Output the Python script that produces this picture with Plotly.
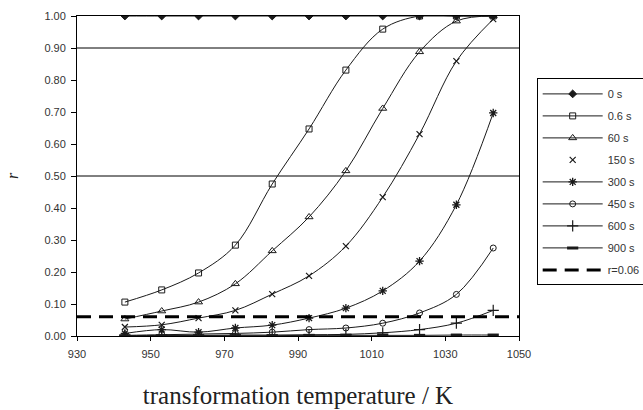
import plotly.graph_objects as go

# ---- data ----
temps = [943, 953, 963, 973, 983, 993, 1003, 1013, 1023, 1033, 1043]

r_0s   = [1.00, 1.00, 1.00, 1.00, 1.00, 1.00, 1.00, 1.00, 1.00, 1.00, 1.00]
r_06s  = [0.106, 0.144, 0.197, 0.284, 0.475, 0.647, 0.831, 0.959, 1.00, 1.00, 1.00]
r_60s  = [0.053, 0.078, 0.106, 0.163, 0.266, 0.372, 0.516, 0.711, 0.888, 0.984, 1.00]
r_150s = [0.028, 0.035, 0.056, 0.080, 0.131, 0.188, 0.281, 0.434, 0.631, 0.859, 0.99]
r_300s = [0.008, 0.020, 0.012, 0.025, 0.034, 0.056, 0.087, 0.141, 0.234, 0.41, 0.697]
r_450s = [0.002, 0.004, 0.006, 0.008, 0.012, 0.020, 0.025, 0.040, 0.072, 0.130, 0.275]
r_600s = [0.001, 0.002, 0.002, 0.003, 0.003, 0.004, 0.005, 0.010, 0.020, 0.040, 0.080]
r_900s = [0.001, 0.001, 0.001, 0.001, 0.001, 0.002, 0.002, 0.002, 0.002, 0.003, 0.003]

r_crit = 0.06
crit_x = [930, 1050]
ref_levels = [0.5, 0.9]

x_ticks = [930, 950, 970, 990, 1010, 1030, 1050]
y_ticks = [0.0, 0.1, 0.2, 0.3, 0.4, 0.5, 0.6, 0.7, 0.8, 0.9, 1.0]

series = [
    ("0 s", r_0s, "diamond", 6, 1),
    ("0.6 s", r_06s, "square-open", 6, 1),
    ("60 s", r_60s, "triangle-up-open", 7, 1),
    ("150 s", r_150s, "x-thin-open", 6, 1.2),
    ("300 s", r_300s, "asterisk-open", 7, 1.3),
    ("450 s", r_450s, "circle-open", 6, 1),
    ("600 s", r_600s, "cross-thin-open", 8, 1.2),
    ("900 s", r_900s, "line-ew-open", 8, 3),
]

LC = "#1a1a1a"
fig = go.Figure()
for i, (name, ys, sym, sz, lw) in enumerate(series):
    mk = dict(symbol=sym, size=sz, color=LC, line=dict(color=LC, width=lw))
    if name == "150 s":
        # curve drawn with line, legend shows marker only
        fig.add_trace(go.Scatter(x=temps, y=ys, mode="lines+markers", name=name,
                                 showlegend=False, legendgroup=f"g{i}",
                                 line=dict(color=LC, width=1, shape="spline"),
                                 marker=mk))
        fig.add_trace(go.Scatter(x=[None], y=[None], mode="markers", name=name,
                                 legendgroup=f"g{i}", marker=mk))
    else:
        fig.add_trace(go.Scatter(x=temps, y=ys, mode="lines+markers", name=name,
                                 legendgroup=f"g{i}",
                                 line=dict(color=LC, width=1, shape="spline"),
                                 marker=mk))

fig.add_trace(go.Scatter(x=crit_x, y=[r_crit, r_crit], mode="lines", name="r=0.06",
                         legendgroup="g9",
                         line=dict(color="black", width=3, dash="14px,8px")))

for lv in ref_levels:
    fig.add_shape(type="line", xref="paper", x0=0, x1=1, yref="y", y0=lv, y1=lv,
                  line=dict(color="black", width=1), layer="below")

fig.update_layout(
    width=643, height=410,
    margin=dict(l=77, r=124, t=16, b=74, autoexpand=False),
    paper_bgcolor="white", plot_bgcolor="white",
    font=dict(family="Liberation Sans, Arial, sans-serif", size=11, color="#333"),
    showlegend=True,
    legend=dict(x=1.04, xanchor="left", y=0.805, yanchor="top",
                bordercolor="black", borderwidth=1, bgcolor="white",
                font=dict(size=11, color="#333"), tracegroupgap=3,
                itemwidth=60),
    xaxis=dict(range=[930, 1050], tickvals=x_ticks,
               ticktext=[str(v) for v in x_ticks], automargin=False,
               showline=True, linecolor="black", linewidth=1, mirror=True,
               ticks="outside", ticklen=4, tickcolor="black", ticklabelstandoff=4,
               showgrid=False, zeroline=False,
               title=dict(text="transformation temperature / K",
                          font=dict(family="Liberation Serif, Times New Roman, serif",
                                    size=25, color="#222"), standoff=27)),
    yaxis=dict(range=[0, 1.0], tickvals=y_ticks,
               ticktext=[f"{v:.2f}" for v in y_ticks], automargin=False,
               showline=True, linecolor="black", linewidth=1, mirror=True,
               ticks="outside", ticklen=5, tickcolor="black", ticklabelstandoff=3,
               showgrid=False, zeroline=False,
               title=dict(text="<i>r</i>",
                          font=dict(family="Liberation Serif, Times New Roman, serif",
                                    size=16, color="#222"), standoff=21)),
)

fig.write_html("out.html")
